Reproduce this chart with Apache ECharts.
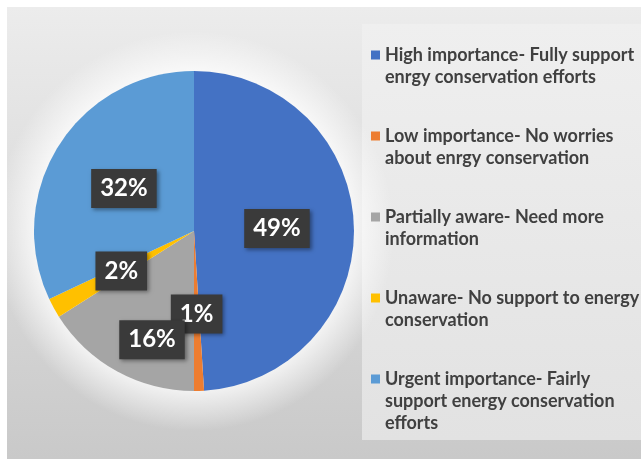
<!DOCTYPE html>
<html><head><meta charset="utf-8">
<script src="https://cdn.jsdelivr.net/npm/echarts@6/dist/echarts.min.js"></script>
<style>html,body{margin:0;padding:0;background:#fff}#c{width:641px;height:459px}</style>
</head><body><div id="c"></div>
<script>
const categories = [
  "High importance- Fully support\nenrgy conservation efforts",
  "Low importance- No worries\nabout enrgy conservation",
  "Partially aware- Need more\ninformation",
  "Unaware- No support to energy\nconservation",
  "Urgent importance- Fairly\nsupport energy conservation\nefforts"
];
const values = [49, 1, 16, 2, 32];
const colors = ['#4472C4', '#ED7D31', '#A5A5A5', '#FFC000', '#5B9BD5'];

const FONT = 'Lato';
const rich = {
  g: {width: 5},
  p: {width: 14},
  t: {fontSize: 18, fontWeight: 'bold', color: '#404040', lineHeight: 22, fontFamily: FONT}
};
colors.forEach((c, i) => { rich['s' + i] = {width: 9, height: 9, backgroundColor: c, verticalAlign: 'middle'}; });

const chart = echarts.init(document.getElementById('c'));
chart.setOption({
  backgroundColor: '#ffffff',
  animation: false,
  graphic: [
    {type: 'rect', z: -10, shape: {x: 7, y: 7, width: 634, height: 452},
     style: {fill: new echarts.graphic.LinearGradient(0, 0, 0, 1, [{offset: 0, color: '#ececec'}, {offset: 1, color: '#c9c9c9'}])}},
    {type: 'rect', z: -9, shape: {x: 362, y: 24, width: 279, height: 416},
     style: {fill: new echarts.graphic.LinearGradient(0, 0, 0, 1, [{offset: 0, color: '#efefef'}, {offset: 1, color: '#e2e2e2'}])}},
    {type: 'circle', z: -8, shape: {cx: 194, cy: 231, r: 200},
     style: {fill: new echarts.graphic.RadialGradient(0.5, 0.5, 0.5, [{offset: 0.75, color: 'rgba(255,255,255,0.9)'}, {offset: 1, color: 'rgba(255,255,255,0)'}])}}
  ],
  legend: {
    orient: 'vertical',
    left: 361, top: 39,
    itemWidth: 0, itemHeight: 0, itemGap: 37,
    selectedMode: false,
    icon: 'rect',
    data: categories,
    formatter: function (name) {
      const i = categories.indexOf(name);
      const lines = name.split('\n');
      let s = '{s' + i + '|}{g|}{t|' + lines[0] + '}';
      for (let k = 1; k < lines.length; k++) s += '\n{p|}{t|' + lines[k] + '}';
      return s;
    },
    textStyle: {rich: rich, lineHeight: 22}
  },
  series: [{
    type: 'pie',
    center: [194, 231],
    radius: [0, 160],
    startAngle: 90,
    clockwise: true,
    color: colors,
    itemStyle: {borderWidth: 0},
    label: {
      position: 'inside',
      formatter: '{c}%',
      color: '#ffffff',
      fontSize: 24,
      fontWeight: 'bold',
      fontFamily: FONT,
      backgroundColor: '#3a3a3a',
      padding: [8, 9, 7, 9],
      shadowColor: 'rgba(0,0,0,0.4)',
      shadowBlur: 4,
      shadowOffsetX: 2,
      shadowOffsetY: 2
    },
    labelLine: {show: false},
    labelLayout: function (p) {
      if (p.dataIndex === 2) return {dx: -2, dy: 36};
      if (p.dataIndex === 4) return {dy: 2};
      return {};
    },
    data: categories.map((n, i) => ({name: n, value: values[i]}))
  }]
});
</script></body></html>
